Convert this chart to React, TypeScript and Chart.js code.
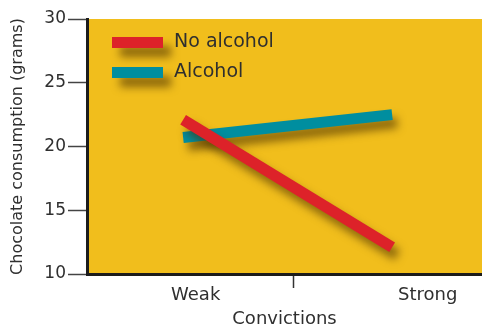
import React, { useEffect, useRef } from "react";
import { Chart, registerables } from "chart.js";

Chart.register(...registerables);

const seriesNames = ["No alcohol", "Alcohol"];
const convictionLevels = ["Weak", "Strong"];
const noAlcohol = [22.1, 12.1];
const alcohol = [20.7, 22.5];
const yTicks = [10, 15, 20, 25, 30];
const seriesColors = ["#DD2229", "#008E9F"];

const FONT = "'DejaVu Sans', sans-serif";
const YELLOW = "#F1BE1C";
const TEXT = "#2f2f2f";

export default function App() {
  const ref = useRef<HTMLCanvasElement | null>(null);

  useEffect(() => {
    document.body.style.margin = "0";
    const canvas = ref.current;
    if (!canvas) return;

    const bgPlugin = {
      id: "bg",
      beforeDraw(chart: any) {
        const { ctx, chartArea } = chart;
        ctx.save();
        ctx.fillStyle = YELLOW;
        ctx.fillRect(chartArea.left, chartArea.top, chartArea.right - chartArea.left, chartArea.bottom - chartArea.top);
        ctx.restore();
      },
    };

    const shadowPlugin = {
      id: "shadow",
      beforeDatasetDraw(chart: any) {
        const ctx = chart.ctx;
        ctx.save();
        ctx.shadowColor = "rgba(70,45,0,0.6)";
        ctx.shadowBlur = 8;
        ctx.shadowOffsetX = 5;
        ctx.shadowOffsetY = 8;
      },
      afterDatasetDraw(chart: any) {
        chart.ctx.restore();
      },
    };

    const legendPlugin = {
      id: "customLegend",
      afterDatasetsDraw(chart: any) {
        const { ctx, chartArea } = chart;
        const x0 = chartArea.left + 25;
        const y0 = chartArea.top + 18;
        chart.data.datasets.forEach((ds: any, i: number) => {
          const y = y0 + i * 30;
          ctx.save();
          ctx.shadowColor = "rgba(70,45,0,0.6)";
          ctx.shadowBlur = 8;
          ctx.shadowOffsetX = 8;
          ctx.shadowOffsetY = 9;
          ctx.fillStyle = ds.borderColor;
          ctx.fillRect(x0, y, 51, 11);
          ctx.restore();
          ctx.save();
          ctx.fillStyle = TEXT;
          ctx.font = `19px ${FONT}`;
          ctx.textBaseline = "middle";
          ctx.fillText(ds.label, x0 + 62, y + 5);
          ctx.restore();
        });
      },
    };

    const xTickValues = [0.06, 0.526, 1.17];
    const xTickLabels = [convictionLevels[0], "", convictionLevels[1]];

    const chart = new Chart(canvas, {
      type: "line",
      data: {
        datasets: [
          {
            label: seriesNames[0],
            data: convictionLevels.map((_, i) => ({ x: i, y: noAlcohol[i] })),
            borderColor: seriesColors[0],
            backgroundColor: seriesColors[0],
            borderWidth: 11,
            borderCapStyle: "butt",
            pointRadius: 0,
            fill: false,
          },
          {
            label: seriesNames[1],
            data: convictionLevels.map((_, i) => ({ x: i, y: alcohol[i] })),
            borderColor: seriesColors[1],
            backgroundColor: seriesColors[1],
            borderWidth: 11,
            borderCapStyle: "butt",
            pointRadius: 0,
            fill: false,
          },
        ],
      },
      options: {
        responsive: false,
        animation: false,
        layout: { padding: { top: 19, right: 0, left: 0, bottom: 0 } },
        plugins: {
          legend: { display: false },
          tooltip: { enabled: false },
        },
        scales: {
          x: {
            type: "linear",
            min: -0.46,
            max: 1.43,
            afterBuildTicks(scale: any) {
              scale.ticks = xTickValues.map((v) => ({ value: v }));
            },
            afterFit(scale: any) {
              scale.height = 56;
            },
            border: { display: true, color: "#1c1c1c", width: 3 },
            grid: {
              drawOnChartArea: false,
              drawTicks: true,
              tickLength: 14,
              tickWidth: 1.5,
              tickColor: (c: any) => (c.index === 1 ? "#333" : "rgba(0,0,0,0)"),
            },
            ticks: {
              autoSkip: false,
              maxRotation: 0,
              padding: -3,
              color: TEXT,
              font: { family: FONT, size: 18 },
              callback: (_v: any, i: number) => xTickLabels[i],
            },
            title: {
              display: true,
              text: "Convictions",
              color: TEXT,
              font: { family: FONT, size: 18 },
              padding: { top: 0, bottom: 0 },
            },
          },
          y: {
            min: 10,
            max: 30,
            afterBuildTicks(scale: any) {
              scale.ticks = yTicks.map((v) => ({ value: v }));
            },
            afterFit(scale: any) {
              scale.width = 87;
            },
            border: { display: true, color: "#1c1c1c", width: 3 },
            grid: {
              drawOnChartArea: false,
              drawTicks: true,
              tickLength: 19,
              tickWidth: 1.5,
              tickColor: "#444",
            },
            ticks: {
              padding: 2,
              color: TEXT,
              font: { family: FONT, size: 17 },
            },
            title: {
              display: true,
              text: "Chocolate consumption (grams)",
              color: TEXT,
              font: { family: FONT, size: 16 },
              padding: { top: 8, bottom: 0 },
            },
          },
        },
      },
      plugins: [bgPlugin, shadowPlugin, legendPlugin],
    } as any);

    return () => chart.destroy();
  }, []);

  return <canvas ref={ref} width={482} height={330} style={{ display: "block" }} />;
}
